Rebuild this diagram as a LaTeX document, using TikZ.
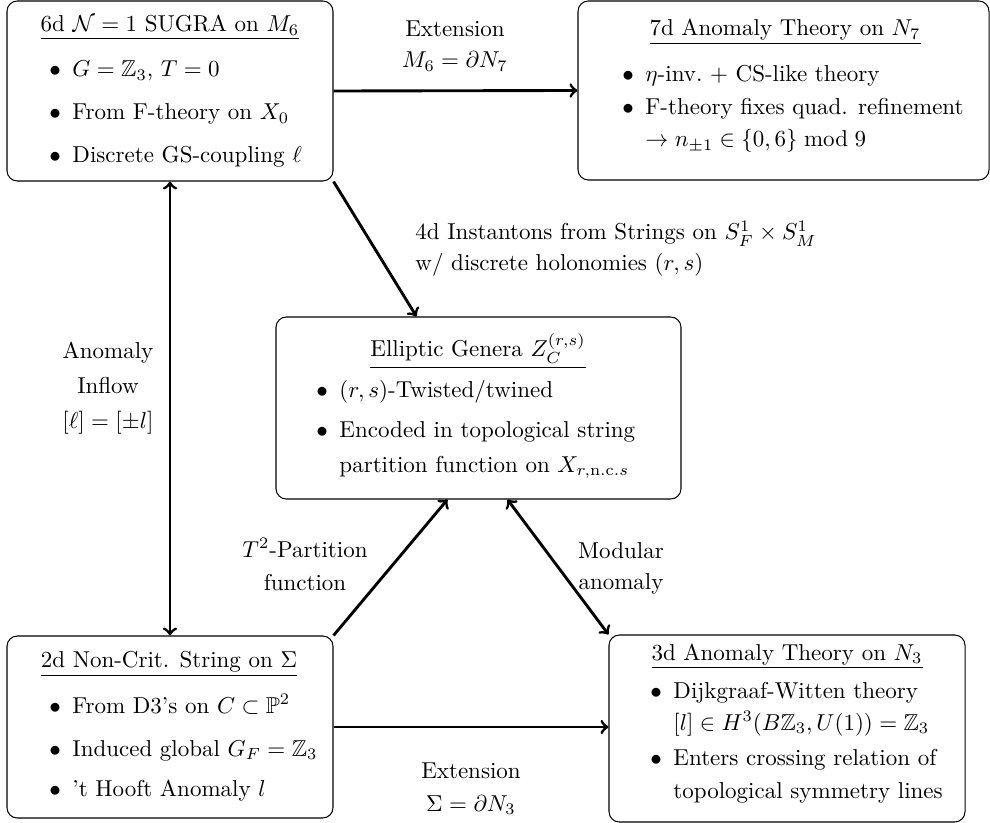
\documentclass[tikz,border=0pt]{standalone}
\usepackage{amssymb}
\usetikzlibrary{fit,calc}
\newcommand\bul{\llap{$\bullet$\hspace{5pt}}}
\begin{document}
\begin{tikzpicture}[x=0.4348pt,y=-0.4348pt,
  boxnode/.style={draw,line width=0.45pt,rounded corners=4.5pt,inner sep=0pt},
  txt/.style={inner sep=0pt,anchor=base},
  itm/.style={inner sep=0pt,anchor=base west},
  conn/.style={line width=1.25pt,->},
  dconn/.style={line width=1.25pt,<->}]
\useasboundingbox (0,0) rectangle (990,823);
% boxes
\node[boxnode,fit={(7,1) (333,181)}] (A) {};
\node[boxnode,fit={(578,1) (989,180)}] (B) {};
\node[boxnode,fit={(276,317) (681,499)}] (C) {};
\node[boxnode,fit={(7,636) (333,818)}] (D) {};
\node[boxnode,fit={(609,635) (965,822)}] (E) {};
% box A
\node[txt] (At) at (170,32) {\underline{6d $\mathcal{N}=1$ SUGRA on $M_6$}};
\node[itm] (A1) at (72,77) {\bul$G=\mathbb{Z}_3$, $T=0$};
\node[itm] (A2) at (72,120) {\bul From F-theory on $X_0$};
\node[itm] (A3) at (72,163) {\bul Discrete GS-coupling $\ell$};
% box B
\node[txt] (Bt) at (785,36) {\underline{7d Anomaly Theory on $N_7$}};
\node[itm] (B1) at (645,82) {\bul$\eta$-inv.\ $+$ CS-like theory};
\node[itm] (B2) at (645,115) {\bul F-theory fixes quad. refinement};
\node[itm] (B3) at (645,147) {$\to n_{\pm1}\in\{0,6\}\bmod 9$};
% box C
\node[txt] (Ct) at (478,357) {\underline{Elliptic Genera $Z_C^{(r,s)}$}};
\node[itm] (C1) at (339,397) {\bul$(r,s)$-Twisted/twined};
\node[itm] (C2) at (339,437) {\bul Encoded in topological string};
\node[itm] (C3) at (339,472) {partition function on $X_{r,\mathrm{n.c.}s}$};
% box D
\node[txt] (Dt) at (169,667) {\underline{2d Non-Crit. String on $\Sigma$}};
\node[itm] (D1) at (72,713) {\bul From D3's on $C\subset\mathbb{P}^2$};
\node[itm] (D2) at (72,756) {\bul Induced global $G_F=\mathbb{Z}_3$};
\node[itm] (D3) at (72,796) {\bul 't Hooft Anomaly $l$};
% box E
\node[txt] (Et) at (787,660) {\underline{3d Anomaly Theory on $N_3$}};
\node[itm] (E1) at (673,698) {\bul Dijkgraaf-Witten theory};
\node[itm] (E2) at (673,730) {$[l]\in H^3(B\mathbb{Z}_3,U(1))=\mathbb{Z}_3$};
\node[itm] (E3) at (673,765) {\bul Enters crossing relation of};
\node[itm] (E4) at (673,798) {topological symmetry lines};
% connectors
\draw[conn] (A.east) -- (B.west);
\draw[conn] (A.south east) -- ($(C.north west)+(141,0)$);
\draw[dconn] (A.south) -- (D.north);
\draw[conn] (D.north east) -- ($(C.south west)+(172,0)$);
\draw[dconn] ($(C.south west)+(232,0)$) -- (E.north west);
\draw[conn] (D.east) -- (D.east -| E.west);
% labels
\node[txt] (L1a) at (455,37) {Extension};
\node[txt] (L1b) at (455,68) {$M_6=\partial N_7$};
\node[itm] (L2a) at (415,240) {4d Instantons from Strings on $S^1_F\times S^1_M$};
\node[itm] (L2b) at (415,271) {w/ discrete holonomies $(r,s)$};
\node[txt] (L3a) at (108,358) {Anomaly};
\node[txt] (L3b) at (108,393) {Inflow};
\node[txt] (L3c) at (108,428) {$[\ell]=[\pm l]$};
\node[txt] (L4a) at (305,557) {$T^2$-Partition};
\node[txt] (L4b) at (305,590) {function};
\node[txt] (L5a) at (621,558) {Modular};
\node[txt] (L5b) at (621,589) {anomaly};
\node[txt] (L6a) at (471,778) {Extension};
\node[txt] (L6b) at (471,811) {$\Sigma=\partial N_3$};
\end{tikzpicture}
\end{document}
